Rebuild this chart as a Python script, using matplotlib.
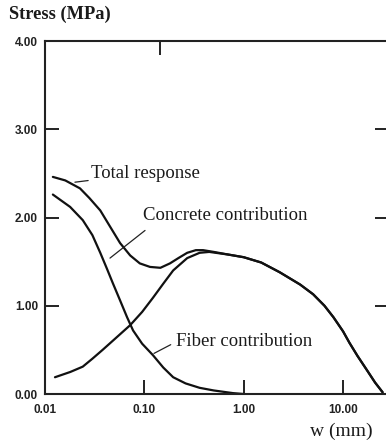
import matplotlib
matplotlib.use("Agg")
import matplotlib.pyplot as plt
from matplotlib.ticker import NullLocator, FixedLocator

# values (w in mm, stress in MPa)
w_total = [0.012, 0.016, 0.0225, 0.028, 0.036, 0.045, 0.057, 0.072, 0.09, 0.114, 0.145,
           0.181, 0.22, 0.27, 0.33, 0.39, 0.5, 0.7, 1.0, 1.5, 2.3, 3.7, 5.0, 6.5, 8.0,
           10.0, 11.6, 14.0, 17.4, 21.0, 25.0]
s_total = [2.46, 2.42, 2.33, 2.22, 2.08, 1.90, 1.71, 1.57, 1.48, 1.44, 1.43,
           1.48, 1.54, 1.60, 1.63, 1.63, 1.61, 1.58, 1.55, 1.49, 1.38, 1.24, 1.13, 1.00, 0.87,
           0.71, 0.58, 0.43, 0.27, 0.13, 0.02]

w_concrete = [0.012, 0.0179, 0.024, 0.03, 0.036, 0.042, 0.048, 0.057, 0.067, 0.077,
              0.095, 0.122, 0.155, 0.195, 0.26, 0.36, 0.5, 0.78, 1.0]
s_concrete = [2.26, 2.12, 1.97, 1.80, 1.60, 1.42, 1.26, 1.06, 0.87, 0.72,
              0.57, 0.44, 0.30, 0.19, 0.12, 0.07, 0.04, 0.01, 0.0]

w_fiber = [0.0126, 0.018, 0.024, 0.03, 0.038, 0.05, 0.072, 0.095, 0.122, 0.155, 0.195,
           0.27, 0.36, 0.45, 0.7, 1.0, 1.5, 2.3, 3.7, 5.0, 6.5, 8.0, 10.0, 11.6, 14.0,
           17.4, 21.0, 25.0]
s_fiber = [0.19, 0.25, 0.31, 0.40, 0.50, 0.62, 0.78, 0.93, 1.09, 1.25, 1.40,
           1.54, 1.60, 1.61, 1.58, 1.55, 1.49, 1.38, 1.24, 1.13, 1.00, 0.87, 0.71, 0.58, 0.43,
           0.27, 0.13, 0.02]

x_ticks = [0.01, 0.1, 1.0, 10.0]
x_ticklabels = ["0.01", "0.10", "1.00", "10.00"]
y_ticks = [0, 1, 2, 3, 4]
y_ticklabels = ["0.00", "1.00", "2.00", "3.00", "4.00"]

serif = "Liberation Serif"
sans = "Liberation Sans"

fig = plt.figure(figsize=(3.86, 4.44), dpi=100)
ax = fig.add_axes([45/386, 50/444, (389-45)/386, (394-41)/444])

lw = 1.6
ax.plot(w_total, s_total, color="#111111", lw=lw, solid_capstyle="round")
ax.plot(w_concrete, s_concrete, color="#111111", lw=lw, solid_capstyle="round")
ax.plot(w_fiber, s_fiber, color="#111111", lw=lw, solid_capstyle="round")

ax.set_xscale("log")
ax.set_xlim(0.01, 29)
ax.set_ylim(0, 4)
ax.xaxis.set_minor_locator(NullLocator())
ax.set_xticks(x_ticks)
ax.set_xticklabels(x_ticklabels)
ax.set_yticks(y_ticks)
ax.set_yticklabels(y_ticklabels)
for lab in ax.get_xticklabels() + ax.get_yticklabels():
    lab.set_fontfamily(sans)
    lab.set_fontweight("bold")
    lab.set_fontsize(8.5)
    lab.set_color("#222222")
ax.tick_params(direction="in", length=10, width=1.4, right=True, color="#222222")
ax.tick_params(axis="x", pad=7)
ax.tick_params(axis="y", pad=5)
for sp in ax.spines.values():
    sp.set_linewidth(1.5)
    sp.set_color("#222222")

top = ax.secondary_xaxis("top")
top.xaxis.set_major_locator(FixedLocator([0.145]))
top.xaxis.set_minor_locator(NullLocator())
top.tick_params(direction="in", length=10, width=1.4, labeltop=False, color="#222222")
top.spines["top"].set_visible(False)

# annotations with leader lines
fs = 13.5
ax.annotate("Total response", xy=(0.02, 2.40), xytext=(0.029, 2.50),
            fontsize=fs, family=serif, va="center", ha="left", color="#1a1a1a",
            arrowprops=dict(arrowstyle="-", lw=0.9, color="#222222", shrinkA=0, shrinkB=0))
ax.annotate("Concrete contribution", xy=(0.0451, 1.54), xytext=(0.097, 2.02),
            fontsize=fs, family=serif, va="center", ha="left", color="#1a1a1a",
            arrowprops=dict(arrowstyle="-", lw=0.9, color="#222222", shrinkA=4, shrinkB=0,
                            relpos=(0.06, 0.0)))
ax.annotate("Fiber contribution", xy=(0.125, 0.46), xytext=(0.208, 0.59),
            fontsize=fs, family=serif, va="center", ha="left", color="#1a1a1a",
            arrowprops=dict(arrowstyle="-", lw=0.9, color="#222222", shrinkA=2, shrinkB=0,
                            relpos=(0.0, 0.5)))

fig.text(9/386, 1 - 14/444, "Stress (MPa)", family=serif, fontweight="bold",
         fontsize=13.2, ha="left", va="center", color="#1a1a1a")
fig.text(310/386, 1 - 431/444, "w (mm)", family=serif, fontsize=14,
         ha="left", va="center", color="#1a1a1a")

fig.savefig("out.png", dpi=100)
